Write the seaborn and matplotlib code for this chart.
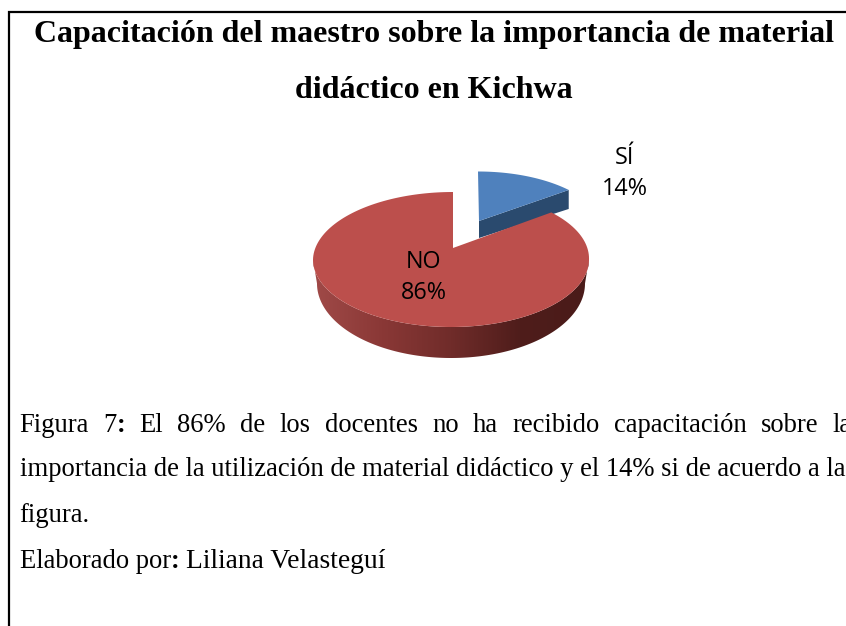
import numpy as np
import matplotlib
matplotlib.use('Agg')
import matplotlib.pyplot as plt
import seaborn as sns
from matplotlib.colors import LinearSegmentedColormap
from matplotlib.patches import Polygon

# Data
categories = ['SÍ', 'NO']
values = [14, 86]
pie_colors = ['#4f81bd', '#bc4f4c']

title_lines = ['Capacitación del maestro sobre la importancia de material',
               'didáctico en Kichwa']
caption_line_1 = ['Figura', '7:', 'El', '86%', 'de', 'los', 'docentes', 'no', 'ha', 'recibido',
                  'capacitación', 'sobre', 'la']
caption_line_2 = 'importancia de la utilización de material didáctico y el 14% si de acuerdo a la'
caption_line_3 = 'figura.'
caption_line_4 = 'Elaborado por: Liliana Velasteguí'

sns.set_theme(style='white')
plt.rcParams['text.color'] = 'black'
SERIF = 'Liberation Serif'
LABEL_FONT = 'Open Sans'

W, H = 846, 626
fig = plt.figure(figsize=(W / 100, H / 100), dpi=100)
ax = fig.add_axes([0, 0, 1, 1])

# the pie only gives the slice angles, the 3D look is built on top of it
wedges, _ = ax.pie(values, startangle=90, counterclock=False, colors=pie_colors)
angles = [(90 - w.theta2, 90 - w.theta1) for w in wedges]
for w in wedges:
    w.set_visible(False)

ax.set_aspect('auto')
ax.set_xlim(0, W)
ax.set_ylim(H, 0)
ax.axis('off')


def rim(theta, cx, cy, a, b, back_shift=0.0):
    # point on the tilted edge, theta in degrees clockwise from the top
    # the small warp and back_shift stand in for the perspective of the 3D chart
    t = np.radians(theta - 4.7 * np.sin(np.radians(2 * theta)))
    return cx + a * np.sin(t) + back_shift * np.clip(np.cos(t), 0, None), cy - b * np.cos(t)


def slice_top(t0, t1, apex, **kw):
    th = np.linspace(t0, t1, 200)
    x, y = rim(th, **kw)
    return np.column_stack([np.r_[apex[0], x], np.r_[apex[1], y]])


red_apex = (453, 248)
blue_apex = (479, 221)
red = dict(cx=451, cy=259.5, a=138, b=67.5, back_shift=2)
red_floor = dict(cx=451, cy=283.5, a=134, b=74.5)
blue = dict(cx=477, cy=232.5, a=127, b=61, back_shift=1)

# blue cut face
bx, by = rim(angles[0][1], **blue)
ax.add_patch(Polygon([blue_apex, (bx, by), (bx, by + 19), (blue_apex[0], blue_apex[1] + 17)],
                     closed=True, fc='#2a4a6e', ec='none', zorder=2))
ax.add_patch(Polygon(slice_top(*angles[0], blue_apex, **blue), closed=True, fc=pie_colors[0],
                     ec='none', zorder=3))

# red outer wall with a left to right shade
th = np.linspace(90, 270, 300)
xt, yt = rim(th, **red)
xb, yb = rim(th, **red_floor)
wall = Polygon(np.column_stack([np.r_[xt, xb[::-1]], np.r_[yt, yb[::-1]]]), closed=True,
               fc='none', ec='none', zorder=4)
ax.add_patch(wall)
shade = LinearSegmentedColormap.from_list(
    'wall', ['#4a1b19', '#4f1d1b', '#702c2a', '#8a3836', '#a04a48'])
img = ax.imshow(np.linspace(0, 1, 256)[None, :], cmap=shade, aspect='auto',
                extent=(589, 313, 365, 250), zorder=4)
img.set_clip_path(wall)
ax.set_xlim(0, W)
ax.set_ylim(H, 0)

ax.add_patch(Polygon(slice_top(*angles[1], red_apex, **red), closed=True, fc=pie_colors[1],
                     ec='none', zorder=5))

# slice labels
label_pos = [(624.5, 173.5), (424, 277.5)]
for cat, val, (lx, ly) in zip(categories, values, label_pos):
    ax.text(lx, ly, f'{cat}\n{val}%', ha='center', va='center', fontsize=16.8,
            family=LABEL_FONT, color='black', linespacing=1.36, zorder=6)

# table border, open on the right and at the bottom
ax.plot([8.5, 8.5, W], [H, 12, 12], color='black', lw=1.6, solid_joinstyle='miter',
        solid_capstyle='butt', zorder=7)

# title
ax.text(434, 34.5, title_lines[0], ha='center', va='center', fontsize=23, family=SERIF,
        fontweight='bold', color='black')
ax.text(434, 90.5, title_lines[1], ha='center', va='center', fontsize=23, family=SERIF,
        fontweight='bold', color='black')

# caption
CAP_SIZE = 19.2
renderer = fig.canvas.get_renderer()
word_objs = []
for word in caption_line_1:
    if word == '7:':
        t1 = ax.text(0, 425, '7', fontsize=CAP_SIZE, family=SERIF, va='center')
        t2 = ax.text(0, 425, ':', fontsize=CAP_SIZE, family=SERIF, va='center', fontweight='bold')
        word_objs.append((t1, t2))
    else:
        word_objs.append((ax.text(0, 425, word, fontsize=CAP_SIZE, family=SERIF, va='center'),))

widths = []
for parts in word_objs:
    widths.append(sum(p.get_window_extent(renderer).width for p in parts))
left, right = 19.5, 852
gap = (right - left - sum(widths)) / (len(widths) - 1)
x = left
for parts, width in zip(word_objs, widths):
    px = x
    for p in parts:
        p.set_x(px)
        px += p.get_window_extent(renderer).width
    x += width + gap

ax.text(19.5, 470, caption_line_2, fontsize=CAP_SIZE, family=SERIF, va='center', clip_on=True)
ax.text(19.5, 516, caption_line_3, fontsize=CAP_SIZE, family=SERIF, va='center')
head, tail = caption_line_4.split(':')
t_head = ax.text(19.5, 562, head, fontsize=CAP_SIZE, family=SERIF, va='center')
hx = 19.5 + t_head.get_window_extent(renderer).width
t_col = ax.text(hx, 562, ':', fontsize=CAP_SIZE, family=SERIF, va='center', fontweight='bold')
hx += t_col.get_window_extent(renderer).width
ax.text(hx + 7, 562, tail.strip(), fontsize=19.8, family=SERIF, va='center')

fig.savefig('out.png', dpi=100, facecolor='white')
